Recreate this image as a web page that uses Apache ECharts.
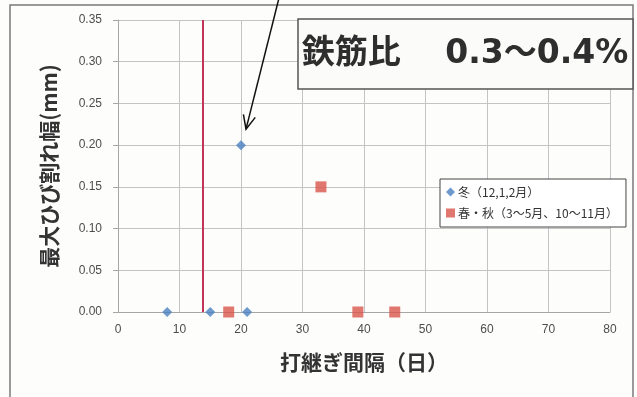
<!DOCTYPE html>
<html>
<head>
<meta charset="utf-8">
<script src="https://cdn.jsdelivr.net/npm/echarts@6/dist/echarts.min.js"></script>
<style>
  html, body { margin: 0; padding: 0; background: #fdfdfc; }
  #chart { width: 637px; height: 397px; }
</style>
</head>
<body>
<div id="chart"></div>
<script>
// Joint interval (days) vs. maximum crack width (mm)
const winterDays   = [8, 15, 20, 21];
const winterWidth  = [0.00, 0.00, 0.20, 0.00];
const springDays   = [18, 33, 39, 45];
const springWidth  = [0.00, 0.15, 0.00, 0.00];
const boundaryDay  = 13.7;           // vertical reference line
const xTicks = { min: 0, max: 80, interval: 10 };
const yTicks = { min: 0, max: 0.35, interval: 0.05 };
const winterName = '冬（12,1,2月）';
const springName = '春・秋（3～5月、10～11月）';
const titleText  = '鉄筋比　 0.3～0.4%';

const toPairs = (xs, ys) => xs.map((x, i) => [x, ys[i]]);

const cjkBold = '"Noto Sans CJK JP", sans-serif';
const tickFont = '"Liberation Sans", Arial, sans-serif';

const chart = echarts.init(document.getElementById('chart'), null, { renderer: 'canvas' });

const option = {
  backgroundColor: '#fdfdfc',
  animation: false,
  grid: { left: 118, right: 27, top: 20, bottom: 85 },
  xAxis: {
    type: 'value',
    min: xTicks.min, max: xTicks.max, interval: xTicks.interval,
    name: '打継ぎ間隔（日）',
    nameLocation: 'middle',
    nameGap: 40,
    nameTextStyle: { fontFamily: cjkBold, fontWeight: 'bold', fontSize: 21, color: '#333' },
    axisLine: { show: true, lineStyle: { color: '#a6a6a6', width: 1 } },
    axisTick: { show: false },
    axisLabel: { fontFamily: tickFont, fontSize: 12, color: '#4d4d4d', margin: 12 },
    splitLine: { show: true, lineStyle: { color: '#c4c4c4', width: 1 } }
  },
  yAxis: {
    type: 'value',
    min: yTicks.min, max: yTicks.max, interval: yTicks.interval,
    name: '最大ひび割れ幅(mm)',
    nameLocation: 'middle',
    nameRotate: 90,
    nameGap: 58,
    nameTextStyle: { fontFamily: cjkBold, fontWeight: 'bold', fontSize: 21, color: '#333' },
    axisLine: { show: true, lineStyle: { color: '#a6a6a6', width: 1 } },
    axisTick: { show: true, length: 5, lineStyle: { color: '#a6a6a6' } },
    axisLabel: {
      fontFamily: tickFont, fontSize: 12, color: '#4d4d4d', margin: 16,
      formatter: v => v.toFixed(2)
    },
    splitLine: { show: true, lineStyle: { color: '#c4c4c4', width: 1 } }
  },
  legend: {
    orient: 'vertical',
    left: 440, top: 179,
    width: 184,
    padding: [7, 8, 8, 6],
    itemGap: 9,
    itemWidth: 9, itemHeight: 9,
    backgroundColor: '#ffffff',
    borderColor: '#444',
    borderWidth: 1,
    borderRadius: 0,
    textStyle: { fontFamily: cjkBold, fontSize: 12, color: '#333', padding: [0, 0, 0, -2] },
    data: [winterName, springName]
  },
  series: [
    {
      name: winterName,
      type: 'scatter',
      symbol: 'diamond',
      symbolSize: 10,
      itemStyle: { color: '#4a7fc0' },
      data: toPairs(winterDays, winterWidth),
      z: 5
    },
    {
      name: springName,
      type: 'scatter',
      symbol: 'rect',
      symbolSize: 11,
      itemStyle: { color: '#d9564b' },
      data: toPairs(springDays, springWidth),
      markLine: {
        silent: true,
        symbol: ['none', 'none'],
        label: { show: false },
        lineStyle: { color: '#c3345a', width: 2, type: 'solid' },
        data: [[{ coord: [boundaryDay, yTicks.min] }, { coord: [boundaryDay, yTicks.max] }]]
      },
      z: 4
    }
  ]
};

chart.setOption(option);

// Frame, title box and the arrow pointing at the winter peak
function drawOverlay() {
  const peakIdx = winterWidth.indexOf(Math.max(...winterWidth));
  const peak = chart.convertToPixel({ gridIndex: 0 }, [winterDays[peakIdx], winterWidth[peakIdx]]);
  const tip = [peak[0] + 5, peak[1] - 16];
  const tail = [tip[0] + 33, -2];
  const ang = Math.atan2(tail[1] - tip[1], tail[0] - tip[0]);
  const headLen = 15, spread = 0.42;
  const h1 = [tip[0] + headLen * Math.cos(ang - spread), tip[1] + headLen * Math.sin(ang - spread)];
  const h2 = [tip[0] + headLen * Math.cos(ang + spread), tip[1] + headLen * Math.sin(ang + spread)];

  chart.setOption({
    graphic: [
      {
        type: 'rect', silent: true, z: 0,
        shape: { x: 10, y: 5, width: 623, height: 400 },
        style: { fill: 'none', stroke: '#7a7a7a', lineWidth: 1.5 }
      },
      {
        type: 'rect', silent: true, z: 10,
        shape: { x: 298, y: 19, width: 335, height: 70 },
        style: { fill: '#fbfbf9', stroke: '#555', lineWidth: 1.5 }
      },
      {
        type: 'text', silent: true, z: 11,
        x: 465, y: 54,
        style: {
          text: titleText,
          align: 'center', verticalAlign: 'middle',
          font: 'bold 33px "DejaVu Sans", "Noto Sans CJK JP", sans-serif',
          fill: '#2e2e2e'
        }
      },
      {
        type: 'polyline', silent: true, z: 12,
        shape: { points: [tail, tip] },
        style: { stroke: '#111', lineWidth: 1.5, fill: 'none' }
      },
      {
        type: 'polyline', silent: true, z: 12,
        shape: { points: [h1, tip, h2] },
        style: { stroke: '#111', lineWidth: 1.5, fill: 'none' }
      }
    ]
  });
}
drawOverlay();
</script>
</body>
</html>
